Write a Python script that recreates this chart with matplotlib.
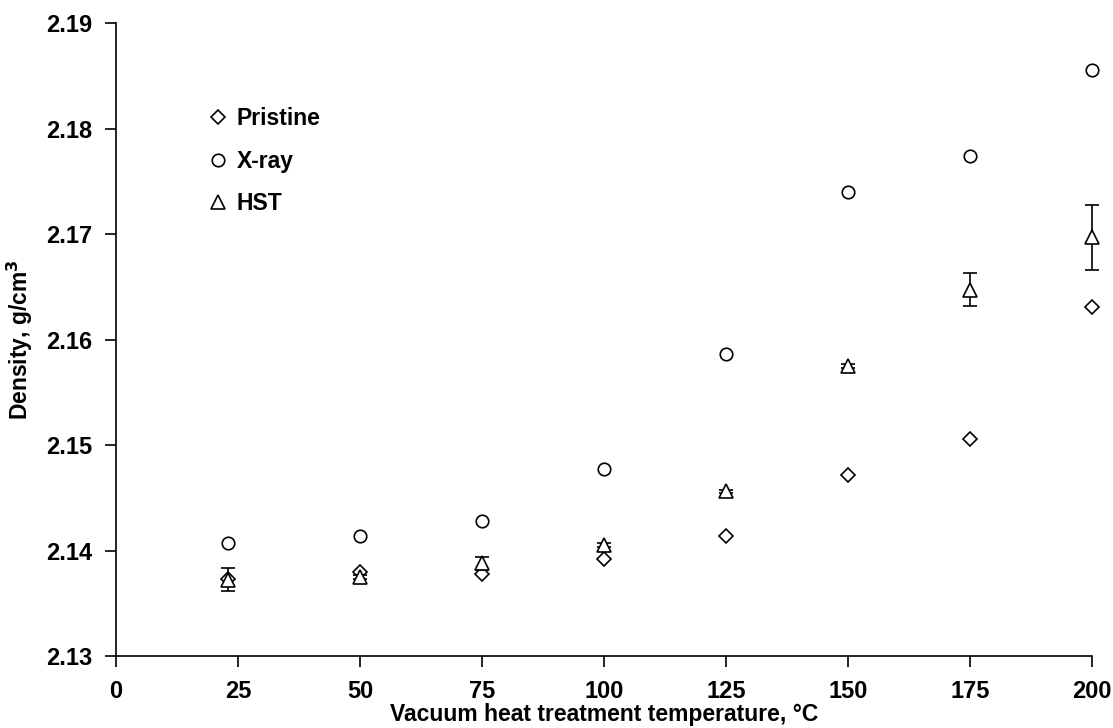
import numpy as np
import matplotlib
matplotlib.use('Agg')
import matplotlib.pyplot as plt

plt.rcParams['font.family'] = ['Liberation Sans', 'DejaVu Sans']
plt.rcParams['font.weight'] = 'bold'
plt.rcParams['axes.labelweight'] = 'bold'

# data
temp = [23, 50, 75, 100, 125, 150, 175, 200]
pristine = [2.1373, 2.1380, 2.1378, 2.1392, 2.1414, 2.1472, 2.1506, 2.1631]
xray = [2.1407, 2.1414, 2.1428, 2.1477, 2.1586, 2.1740, 2.1774, 2.1856]
hst = [2.13725, 2.1375, 2.1388, 2.1405, 2.1456, 2.1575, 2.16475, 2.1697]
hst_err = [0.00105, 0.0002, 0.0006, 0.0002, 0.0001, 0.0002, 0.00155, 0.0031]

fig = plt.figure(figsize=(11.13, 7.28), dpi=100)
ax = fig.add_axes([0.1042, 0.0989, 0.8768, 0.8691])

ax.plot(temp, pristine, linestyle='none', marker='D', markersize=7.5,
        markerfacecolor='white', markeredgecolor='black', markeredgewidth=1.2,
        label='Pristine', clip_on=False)
ax.plot(temp, xray, linestyle='none', marker='o', markersize=9,
        markerfacecolor='white', markeredgecolor='black', markeredgewidth=1.2,
        label='X-ray', clip_on=False)
eb = ax.errorbar(temp, hst, yerr=hst_err, linestyle='none', marker='^', markersize=10,
                 markerfacecolor='white', markeredgecolor='black', markeredgewidth=1.2,
                 ecolor='black', elinewidth=1.2, capsize=5, capthick=1.2,
                 label='HST')
eb[0].set_clip_on(False)
for art in list(eb[1]) + list(eb[2]):
    art.set_clip_on(False)

ax.set_xlim(0, 200)
ax.set_ylim(2.13, 2.19)
ax.set_xticks(np.arange(0, 201, 25))
ax.set_yticks(np.arange(2.13, 2.1901, 0.01))
ax.set_yticklabels(['%.2f' % v for v in np.arange(2.13, 2.1901, 0.01)])

for s in ['top', 'right']:
    ax.spines[s].set_visible(False)
for s in ['left', 'bottom']:
    ax.spines[s].set_linewidth(1.2)
ax.tick_params(axis='both', direction='out', length=8, width=1.2,
               labelsize=17)
ax.tick_params(axis='x', pad=9)
ax.tick_params(axis='y', pad=9)

ax.set_xlabel('Vacuum heat treatment temperature, °C', fontsize=16.5, labelpad=0)
ax.set_ylabel('Density, g/cm$^\\mathbf{3}$', fontsize=16.5, labelpad=8)

handles, labels = ax.get_legend_handles_labels()
handles[2] = handles[2][0]
ax.legend(handles, labels, loc='upper left', bbox_to_anchor=(0.072, 0.9),
          frameon=False, prop={'size': 16.5, 'weight': 'bold'},
          handletextpad=0.3, labelspacing=0.85, handlelength=1.0)

fig.savefig('out.png', dpi=100)
